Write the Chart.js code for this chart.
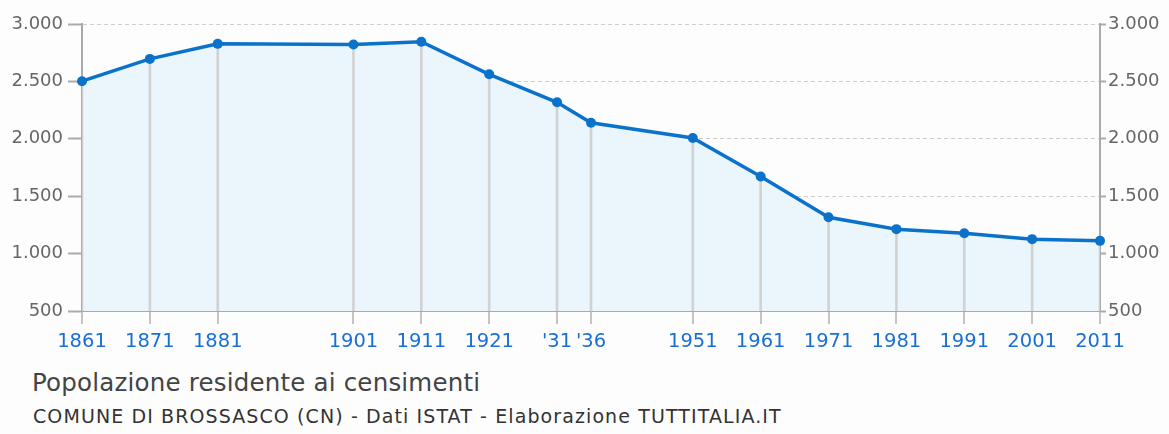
<!DOCTYPE html>
<html>
<head>
<meta charset="utf-8">
<script src="https://cdn.jsdelivr.net/npm/chart.js@4"></script>
<style>
  html, body { margin: 0; padding: 0; background: #fdfdfd; }
  #wrap { position: relative; width: 1169px; height: 434px; overflow: hidden; background: #fdfdfd; }
  #box { position: absolute; left: 0; top: 0; width: 1169px; height: 360px; }
  #title { position: absolute; left: 32px; top: 371px; font-family: "DejaVu Sans", sans-serif; font-size: 24.5px; line-height: 24px; letter-spacing: 0.2px; color: #444; white-space: nowrap; }
  #sub { position: absolute; left: 33px; top: 407px; font-family: "DejaVu Sans", sans-serif; font-size: 19px; line-height: 19px; letter-spacing: 1.1px; color: #333; white-space: nowrap; }
</style>
</head>
<body>
<div id="wrap">
  <div id="box"><canvas id="c"></canvas></div>
  <div id="title">Popolazione residente ai censimenti</div>
  <div id="sub">COMUNE DI BROSSASCO (CN) - Dati ISTAT - Elaborazione TUTTITALIA.IT</div>
</div>
<script>
const years = [1861, 1871, 1881, 1901, 1911, 1921, 1931, 1936, 1951, 1961, 1971, 1981, 1991, 2001, 2011];
const population = [2502, 2696, 2827, 2821, 2845, 2562, 2318, 2140, 2007, 1672, 1317, 1213, 1178, 1126, 1111];
const yearLabels = ['1861', '1871', '1881', '1901', '1911', '1921', "'31", "'36", '1951', '1961', '1971', '1981', '1991', '2001', '2011'];
const yTicks = [500, 1000, 1500, 2000, 2500, 3000];

const points = years.map((y, i) => ({ x: y, y: population[i] }));
const fmt = v => String(v).replace(/\B(?=(\d{3})+(?!\d))/g, '.');

new Chart(document.getElementById('c'), {
  type: 'line',
  data: {
    datasets: [
      {
        type: 'line',
        data: points,
        borderColor: '#0b72cc',
        backgroundColor: '#eaf5fc',
        borderWidth: 3.5,
        pointRadius: 5,
        pointBackgroundColor: '#0b72cc',
        pointBorderColor: '#0b72cc',
        pointBorderWidth: 0,
        fill: 'start',
        tension: 0,
        clip: 10,
        order: 0,
        xAxisID: 'x',
        yAxisID: 'y'
      },
      {
        type: 'bar',
        data: points,
        backgroundColor: '#d2d2d2',
        barThickness: 2,
        clip: 0,
        order: 1,
        xAxisID: 'x',
        yAxisID: 'y'
      }
    ]
  },
  options: {
    responsive: true,
    maintainAspectRatio: false,
    animation: false,
    events: [],
    layout: { padding: { top: 24, left: 0, right: 0, bottom: 0 } },
    plugins: {
      legend: { display: false },
      tooltip: { enabled: false },
      filler: { drawTime: 'beforeDatasetsDraw' }
    },
    scales: {
      x: {
        type: 'linear',
        position: 'bottom',
        offset: false,
        min: years[0],
        max: years[years.length - 1],
        afterBuildTicks: s => { s.ticks = years.map(v => ({ value: v })); },
        afterFit: s => { s.height = 49; },
        ticks: {
          autoSkip: false,
          maxRotation: 0,
          padding: 6,
          color: '#1a6fd6',
          font: { family: '"DejaVu Sans", sans-serif', size: 19.5 },
          callback: (v) => { const i = years.indexOf(v); return i >= 0 ? yearLabels[i] : ''; }
        },
        grid: { display: true, offset: false, drawOnChartArea: false, drawTicks: true, tickLength: 13, lineWidth: 2, color: '#c4c4c4', tickColor: '#c4c4c4', tickWidth: 2 },
        border: { display: true, color: '#aaa', width: 1 }
      },
      y: {
        position: 'left',
        min: 500,
        max: 3000,
        afterBuildTicks: s => { s.ticks = yTicks.map(v => ({ value: v })); },
        afterFit: s => { s.width = 82; },
        ticks: {
          padding: 5,
          color: '#666',
          font: { family: '"DejaVu Sans", sans-serif', size: 18 },
          callback: v => fmt(v)
        },
        grid: {
          color: c => (c.tick && c.tick.value === 500) ? 'rgba(0,0,0,0)' : '#cfcfcf',
          lineWidth: 1,
          tickLength: 14,
          tickColor: '#aaa',
          tickWidth: 2
        },
        border: { color: '#aaa', width: 2, dash: [4, 3] }
      },
      y2: {
        position: 'right',
        min: 500,
        max: 3000,
        afterBuildTicks: s => { s.ticks = yTicks.map(v => ({ value: v })); },
        afterFit: s => { s.width = 69; },
        ticks: {
          padding: 2,
          color: '#666',
          font: { family: '"DejaVu Sans", sans-serif', size: 18 },
          callback: v => fmt(v)
        },
        grid: { drawOnChartArea: false, tickLength: 6, tickColor: '#aaa', tickWidth: 2 },
        border: { color: '#aaa', width: 2 }
      }
    }
  }
});
</script>
</body>
</html>
